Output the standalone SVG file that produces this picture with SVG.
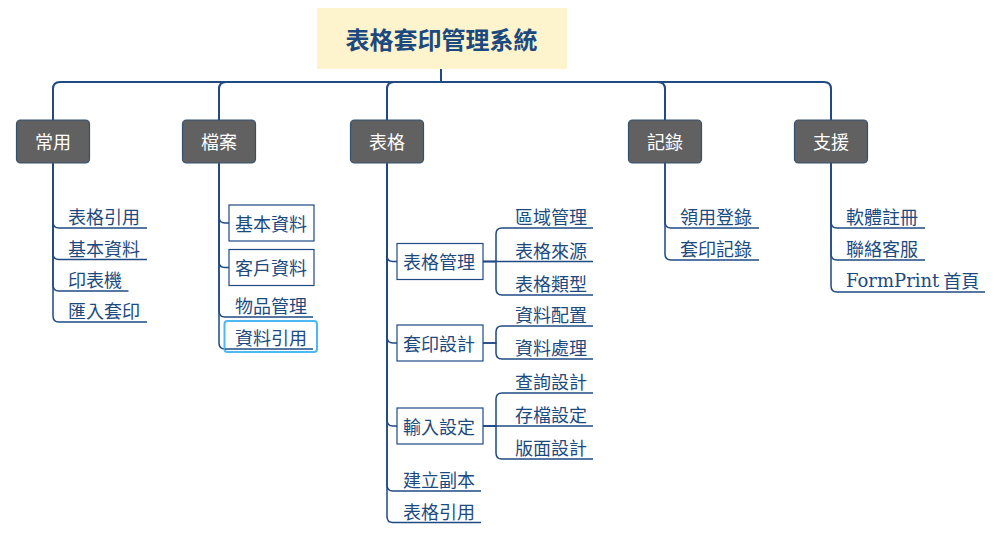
<svg xmlns="http://www.w3.org/2000/svg" width="999" height="536" viewBox="0 0 999 536">
<style>
.c{fill:none;stroke:#1F4A84;stroke-width:2}
.cs{fill:none;stroke:#1F4A84;stroke-width:1.5}
.ul{stroke:#1F4A84;stroke-width:1.5}
.t{font-family:"Noto Sans CJK TC","Noto Sans CJK SC",sans-serif;font-size:18px;fill:#1D4A7E;dominant-baseline:central}
.top rect{fill:#616161;stroke:#34506F;stroke-width:1.2}
.top text{font-family:"Noto Sans CJK TC","Noto Sans CJK SC",sans-serif;font-size:18px;fill:#FFFFFF;text-anchor:middle;dominant-baseline:central}
.bx{fill:#FFFFFF;stroke:#1F4A84;stroke-width:1.2}
</style>
<rect width="999" height="536" fill="#FFFFFF"/>
<g id="connectors">
  <path class="c" d="M441,69 V82"/>
  <path class="c" d="M441,82 H60 Q53,82 53,89 V120"/>
  <path class="c" d="M441,82 H226 Q219,82 219,89 V120"/>
  <path class="c" d="M441,82 H394 Q387,82 387,89 V120"/>
  <path class="c" d="M441,82 H658 Q665,82 665,89 V120"/>
  <path class="c" d="M441,82 H824 Q831,82 831,89 V120"/>
  <path class="cs" d="M53,163 V222 Q53,228 59,228"/>
  <path class="cs" d="M53,163 V253.5 Q53,259.5 59,259.5"/>
  <path class="cs" d="M53,163 V285 Q53,291 59,291"/>
  <path class="cs" d="M53,163 V316 Q53,322 59,322"/>
  <path class="cs" d="M219,163 V217 Q219,223 225,223 H229"/>
  <path class="cs" d="M219,163 V261.5 Q219,267.5 225,267.5 H229"/>
  <path class="cs" d="M219,163 V311 Q219,317 225,317"/>
  <path class="cs" d="M219,163 V343 Q219,349 225,349"/>
  <path class="cs" d="M387,163 V255.5 Q387,261.5 393,261.5 H397"/>
  <path class="cs" d="M387,163 V337 Q387,343 393,343 H397"/>
  <path class="cs" d="M387,163 V420 Q387,426 393,426 H397"/>
  <path class="cs" d="M387,163 V485 Q387,491 393,491"/>
  <path class="cs" d="M387,163 V516.5 Q387,522.5 393,522.5"/>
  <path class="cs" d="M483,261.5 H496 V234 Q496,228 502,228"/>
  <path class="cs" d="M483,261.5 H502"/>
  <path class="cs" d="M483,261.5 H496 V289 Q496,295 502,295"/>
  <path class="cs" d="M483,343 H496 V332 Q496,326 502,326"/>
  <path class="cs" d="M483,343 H496 V353 Q496,359 502,359"/>
  <path class="cs" d="M483,426 H496 V399 Q496,393 502,393"/>
  <path class="cs" d="M483,426 H502"/>
  <path class="cs" d="M483,426 H496 V453 Q496,459 502,459"/>
  <path class="cs" d="M665,163 V222 Q665,228 671,228"/>
  <path class="cs" d="M665,163 V254 Q665,260 671,260"/>
  <path class="cs" d="M831,163 V222 Q831,228 837,228"/>
  <path class="cs" d="M831,163 V254 Q831,260 837,260"/>
  <path class="cs" d="M831,163 V286 Q831,292 837,292"/>
</g>
<g id="root">
  <rect x="317" y="8" width="250" height="61" fill="#FDF4CD"/>
  <text x="441.5" y="38.5" text-anchor="middle" style="font-family:'Noto Sans CJK TC','Noto Sans CJK SC',sans-serif;font-size:24px;font-weight:bold;fill:#1D4A7E;dominant-baseline:central">表格套印管理系統</text>
</g>
<g id="n-changyong" class="top"><rect x="16.5" y="120" width="73" height="43" rx="4"/><text x="53" y="141">常用</text></g>
<g id="n-dangan" class="top"><rect x="182.5" y="120" width="73" height="43" rx="4"/><text x="219" y="141">檔案</text></g>
<g id="n-biaoge" class="top"><rect x="350.5" y="120" width="73" height="43" rx="4"/><text x="387" y="141">表格</text></g>
<g id="n-jilu" class="top"><rect x="628.5" y="120" width="73" height="43" rx="4"/><text x="665" y="141">記錄</text></g>
<g id="n-zhiyuan" class="top"><rect x="794.5" y="120" width="73" height="43" rx="4"/><text x="831" y="141">支援</text></g>

<g id="n-cy1"><text class="t" x="68" y="216">表格引用</text><line class="ul" x1="59" y1="228" x2="147" y2="228"/></g>
<g id="n-cy2"><text class="t" x="68" y="247.5">基本資料</text><line class="ul" x1="59" y1="259.5" x2="147" y2="259.5"/></g>
<g id="n-cy3"><text class="t" x="68" y="279">印表機</text><line class="ul" x1="59" y1="291" x2="128.5" y2="291"/></g>
<g id="n-cy4"><text class="t" x="68" y="310">匯入套印</text><line class="ul" x1="59" y1="322" x2="147" y2="322"/></g>

<g id="n-da1"><rect class="bx" x="229" y="205" width="85" height="36"/><text class="t" x="235" y="222.5">基本資料</text></g>
<g id="n-da2"><rect class="bx" x="229" y="249.5" width="85" height="36"/><text class="t" x="235" y="267">客戶資料</text></g>
<g id="n-da3"><text class="t" x="235" y="305">物品管理</text><line class="ul" x1="225" y1="317" x2="313" y2="317"/></g>
<g id="n-da4"><rect x="224.5" y="321" width="92.5" height="31" rx="3" fill="none" stroke="#4CB9F2" stroke-width="2"/><text class="t" x="235" y="337">資料引用</text><line class="ul" x1="225" y1="349" x2="313" y2="349"/></g>

<g id="n-bg1"><rect class="bx" x="397" y="243.5" width="86" height="36"/><text class="t" x="403" y="261">表格管理</text></g>
<g id="n-bg2"><rect class="bx" x="397" y="325" width="86" height="36"/><text class="t" x="403" y="342.5">套印設計</text></g>
<g id="n-bg3"><rect class="bx" x="397" y="408" width="86" height="36"/><text class="t" x="403" y="425.5">輸入設定</text></g>
<g id="n-bg4"><text class="t" x="403" y="479">建立副本</text><line class="ul" x1="393" y1="491" x2="481" y2="491"/></g>
<g id="n-bg5"><text class="t" x="403" y="510.5">表格引用</text><line class="ul" x1="393" y1="522.5" x2="481" y2="522.5"/></g>

<g id="n-bg1a"><text class="t" x="515" y="216">區域管理</text><line class="ul" x1="502" y1="228" x2="593" y2="228"/></g>
<g id="n-bg1b"><text class="t" x="515" y="249.5">表格來源</text><line class="ul" x1="502" y1="261.5" x2="593" y2="261.5"/></g>
<g id="n-bg1c"><text class="t" x="515" y="283">表格類型</text><line class="ul" x1="502" y1="295" x2="593" y2="295"/></g>
<g id="n-bg2a"><text class="t" x="515" y="314">資料配置</text><line class="ul" x1="502" y1="326" x2="593" y2="326"/></g>
<g id="n-bg2b"><text class="t" x="515" y="347">資料處理</text><line class="ul" x1="502" y1="359" x2="593" y2="359"/></g>
<g id="n-bg3a"><text class="t" x="515" y="381">查詢設計</text><line class="ul" x1="502" y1="393" x2="593" y2="393"/></g>
<g id="n-bg3b"><text class="t" x="515" y="414">存檔設定</text><line class="ul" x1="502" y1="426" x2="593" y2="426"/></g>
<g id="n-bg3c"><text class="t" x="515" y="447">版面設計</text><line class="ul" x1="502" y1="459" x2="593" y2="459"/></g>

<g id="n-jl1"><text class="t" x="680" y="216">領用登錄</text><line class="ul" x1="671" y1="228" x2="759" y2="228"/></g>
<g id="n-jl2"><text class="t" x="680" y="248">套印記錄</text><line class="ul" x1="671" y1="260" x2="759" y2="260"/></g>

<g id="n-zy1"><text class="t" x="846" y="216">軟體註冊</text><line class="ul" x1="837" y1="228" x2="925" y2="228"/></g>
<g id="n-zy2"><text class="t" x="846" y="248">聯絡客服</text><line class="ul" x1="837" y1="260" x2="925" y2="260"/></g>
<g id="n-zy3"><text class="t" x="846" y="280"><tspan style="font-family:'DejaVu Serif',serif">FormPrint</tspan> 首頁</text><line class="ul" x1="837" y1="292" x2="985" y2="292"/></g>
</svg>
